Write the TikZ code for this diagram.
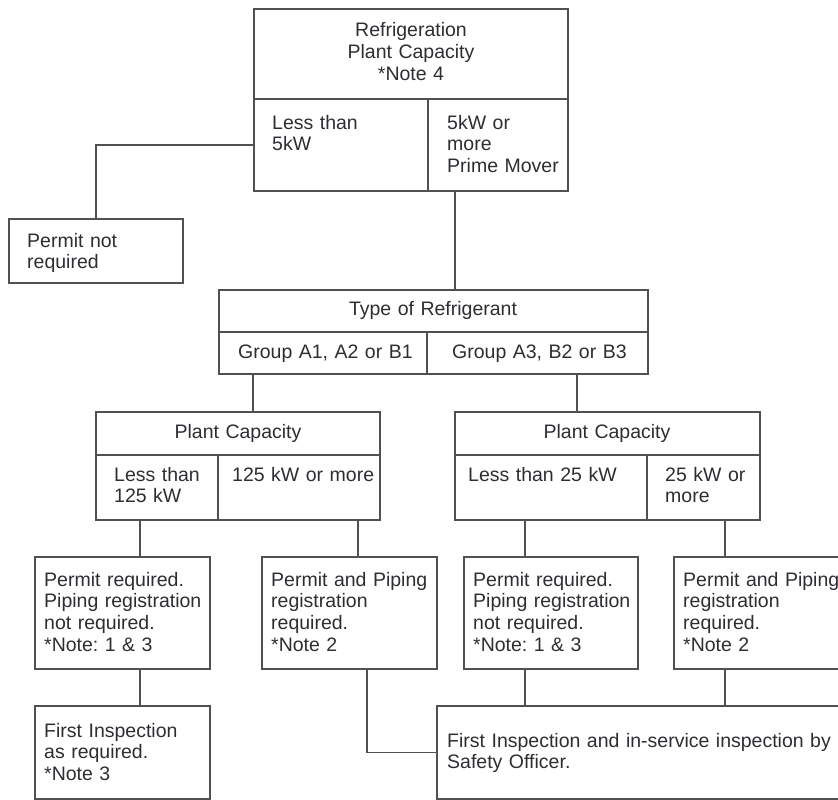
\documentclass[tikz,border=0pt]{standalone}
\usepackage{fontspec}
\setmainfont{Liberation Sans}
\usetikzlibrary{positioning}
\definecolor{linegray}{RGB}{80,80,80}
\definecolor{textgray}{RGB}{45,45,50}
\frenchspacing

\begin{document}
\begin{tikzpicture}[x=1pt,y=-1pt,
        cell/.style={draw=linegray,line width=1.3pt,rectangle,anchor=north west,outer sep=0pt,inner sep=0pt},
        txt/.style={anchor=base west,inner sep=0pt,align=left,text width=400pt,text=textgray,
                font=\fontsize{19.5}{21.7}\selectfont},
        ttl/.style={txt,anchor=base,align=center,text width=300pt},
        link/.style={draw=linegray,line width=1.3pt}]
        \useasboundingbox (0,0) rectangle (838,800);
        \clip (0,0) rectangle (838,800);

        % top: refrigeration plant capacity
        \node [cell,minimum width=314pt,minimum height=90pt] (rpc) at (254,9) {};
        \node [cell,minimum width=174pt,minimum height=92pt] (lt5) at (254,99) {};
        \node [cell,minimum width=140pt,minimum height=92pt] (ge5) at (428,99) {};
        \node [ttl] (rpc-t) at (411,37) {Refrigeration\\Plant Capacity\\{*}Note 4};
        \node [txt] (lt5-t) at (272,129) {Less than\\5kW};
        \node [txt] (ge5-t) at (447,129) {5kW or\\more\\Prime Mover};

        \node [cell,minimum width=174pt,minimum height=64pt] (pnr) at (9,219) {};
        \node [txt] (pnr-t) at (27,247) {Permit not\\required};

        % type of refrigerant
        \node [cell,minimum width=429pt,minimum height=42pt] (tor) at (219,290) {};
        \node [cell,minimum width=208pt,minimum height=42pt] (grpA) at (219,332) {};
        \node [cell,minimum width=221pt,minimum height=42pt] (grpB) at (427,332) {};
        \node [ttl] (tor-t) at (433,315) {Type of Refrigerant};
        \node [txt] (grpA-t) at (238,358) {Group A1, A2 or B1};
        \node [txt] (grpB-t) at (452,358) {Group A3, B2 or B3};

        % plant capacity, left
        \node [cell,minimum width=284pt,minimum height=43pt] (pcl) at (96,412) {};
        \node [cell,minimum width=122pt,minimum height=65pt] (ltl) at (96,455) {};
        \node [cell,minimum width=162pt,minimum height=65pt] (gel) at (218,455) {};
        \node [ttl] (pcl-t) at (238,438) {Plant Capacity};
        \node [txt] (ltl-t) at (114,481) {Less than\\125 kW};
        \node [txt] (gel-t) at (232,481) {125 kW or more};

        % plant capacity, right
        \node [cell,minimum width=305pt,minimum height=43pt] (pcr) at (455,412) {};
        \node [cell,minimum width=192pt,minimum height=65pt] (ltr) at (455,455) {};
        \node [cell,minimum width=113pt,minimum height=65pt] (ger) at (647,455) {};
        \node [ttl] (pcr-t) at (607,438) {Plant Capacity};
        \node [txt] (ltr-t) at (468,481) {Less than 25 kW};
        \node [txt] (ger-t) at (665,481) {25 kW or\\more};

        % permits
        \node [cell,minimum width=175pt,minimum height=112pt] (pA) at (35,557) {};
        \node [cell,minimum width=175pt,minimum height=112pt] (pB) at (262,557) {};
        \node [cell,minimum width=174pt,minimum height=112pt] (pC) at (464,557) {};
        \node [cell,minimum width=180pt,minimum height=112pt] (pD) at (674,557) {};
        \node [txt] (pA-t) at (44,586) {Permit required.\\Piping registration\\not required.\\{*}Note: 1 \& 3};
        \node [txt] (pB-t) at (271,586) {Permit and Piping\\registration\\required.\\{*}Note 2};
        \node [txt] (pC-t) at (473,586) {Permit required.\\Piping registration\\not required.\\{*}Note: 1 \& 3};
        \node [txt] (pD-t) at (683,586) {Permit and Piping\\registration\\required.\\{*}Note 2};

        % inspections
        \node [cell,minimum width=175pt,minimum height=93pt] (pF) at (35,706) {};
        \node [cell,minimum width=420pt,minimum height=93pt] (pE) at (437,706) {};
        \node [txt] (pF-t) at (44,737) {First Inspection\\as required.\\{*}Note 3};
        \node [txt] (pE-t) at (447,747) {First Inspection and in-service inspection by\\Safety Officer.};

        % links
        \draw [link] (lt5.west) -| (pnr.north);
        \draw [link] ([xshift=27pt]ge5.south west) -- ([xshift=27pt]ge5.south west |- tor.north);
        \draw [link] ([xshift=34pt]grpA.south west) -- ([xshift=34pt]grpA.south west |- pcl.north);
        \draw [link] ([xshift=150pt]grpB.south west) -- ([xshift=150pt]grpB.south west |- pcr.north);
        \draw [link] ([xshift=44pt]ltl.south west) -- ([xshift=44pt]ltl.south west |- pA.north);
        \draw [link] ([xshift=140pt]gel.south west) -- ([xshift=140pt]gel.south west |- pB.north);
        \draw [link] ([xshift=70pt]ltr.south west) -- ([xshift=70pt]ltr.south west |- pC.north);
        \draw [link] ([xshift=78pt]ger.south west) -- ([xshift=78pt]ger.south west |- pD.north);
        \draw [link] ([xshift=105pt]pA.south west) -- ([xshift=105pt]pA.south west |- pF.north);
        \draw [link] ([xshift=105pt]pB.south west) |- (pE.west);
        \draw [link] ([xshift=61pt]pC.south west) -- ([xshift=61pt]pC.south west |- pE.north);
        \draw [link] ([xshift=51pt]pD.south west) -- ([xshift=51pt]pD.south west |- pE.north);
\end{tikzpicture}
\end{document}
